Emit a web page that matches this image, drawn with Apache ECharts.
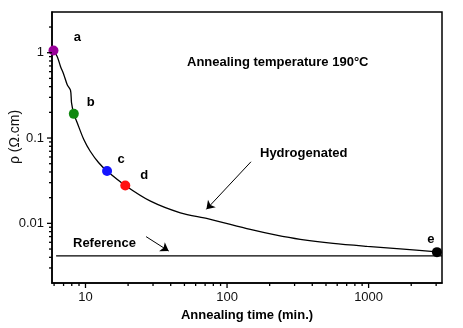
<!DOCTYPE html>
<html>
<head>
<meta charset="utf-8">
<script src="https://cdn.jsdelivr.net/npm/echarts@6/dist/echarts.min.js"></script>
<style>
  html, body { margin: 0; padding: 0; background: #fff; }
  #main { width: 463px; height: 328px; }
</style>
</head>
<body>
<div id="main"></div>
<script>
// hydrogenated sample, resistivity vs annealing time (190°C)
var hydroTime = [5.94, 6.31, 6.66, 7.03, 7.43, 7.84, 7.97, 8.27, 8.74, 9.73, 10.8, 12.4, 14.2, 19.1, 28.8, 46.8, 74, 146, 219, 329, 562, 977, 1671, 3048];
var hydroRho = [1.06, 0.905, 0.691, 0.553, 0.422, 0.362, 0.258, 0.192, 0.151, 0.096, 0.070, 0.0513, 0.041, 0.0278, 0.0182, 0.0133, 0.0113, 0.0085, 0.00733, 0.0065, 0.00583, 0.00538, 0.00503, 0.00464];

// reference sample (flat)
var refTime = [6.2, 3300];
var refRho = [0.00415, 0.00415];

// marked points a..e
var pointNames = ['a', 'b', 'c', 'd', 'e'];
var pointTime = [5.94, 8.27, 14.2, 19.1, 3040];
var pointRho = [1.06, 0.192, 0.041, 0.0278, 0.0046];

// axis ticks
var xMajorTicks = [10, 100, 1000];
var xMinorTicks = [6, 7, 8, 9, 20, 30, 40, 50, 60, 70, 80, 90, 200, 300, 400, 500, 600, 700, 800, 900, 2000, 3000];
var yMajorTicks = [0.01, 0.1, 1];
var yMinorTicks = [0.003, 0.004, 0.005, 0.006, 0.007, 0.008, 0.009, 0.02, 0.03, 0.04, 0.05, 0.06, 0.07, 0.08, 0.09, 0.2, 0.3, 0.4, 0.5, 0.6, 0.7, 0.8, 0.9, 2];

var X_MIN = 5.8, X_MAX = 3300;
var Y_MIN = 0.002, Y_MAX = 3;

var pointColors = ['#990099', '#118811', '#1414ff', '#ff1010', '#000000'];
var labelOffsets = [[24, -13], [17, -11], [14, -12], [19, -10], [-6, -13]];

var chart = echarts.init(document.getElementById('main'), null, {renderer: 'canvas'});

var font = 'Liberation Sans, Arial, sans-serif';

// tick marks drawn as thin rect symbols sitting on the axes
function xTicks(vals, len) {
  return {
    type: 'scatter', silent: true, clip: false, z: 6,
    symbol: 'rect', symbolSize: [1.3, len], symbolOffset: [0, len / 2],
    itemStyle: {color: '#000', opacity: 1},
    data: vals.map(function (v) { return [v, Y_MIN]; })
  };
}
function yTicks(vals, len) {
  return {
    type: 'scatter', silent: true, clip: false, z: 6,
    symbol: 'rect', symbolSize: [len, 1.3], symbolOffset: [-len / 2, 0],
    itemStyle: {color: '#000', opacity: 1},
    data: vals.map(function (v) { return [X_MIN, v]; })
  };
}

var option = {
  animation: false,
  backgroundColor: '#fff',
  grid: {
    left: 52, right: 21, top: 12, bottom: 45,
    show: true, borderColor: '#000', borderWidth: 1.5,
    outerBoundsMode: 'none'
  },
  xAxis: {
    type: 'log', logBase: 10, min: X_MIN, max: X_MAX,
    name: 'Annealing time (min.)', nameLocation: 'middle', nameGap: 21,
    nameTextStyle: {fontFamily: font, fontSize: 13, fontWeight: 'bold', color: '#000'},
    axisLine: {lineStyle: {color: '#000', width: 1.5}},
    axisTick: {show: false},
    splitLine: {show: false},
    axisLabel: {
      margin: 8, fontFamily: font, fontSize: 13, color: '#111',
      showMinLabel: false, showMaxLabel: false,
      formatter: function (v) { return String(v); }
    }
  },
  yAxis: {
    type: 'log', logBase: 10, min: Y_MIN, max: Y_MAX,
    axisLine: {show: true, lineStyle: {color: '#000', width: 1.5}},
    axisTick: {show: false},
    splitLine: {show: false},
    axisLabel: {
      margin: 8, fontFamily: font, fontSize: 13, color: '#111',
      showMinLabel: false, showMaxLabel: false,
      formatter: function (v) { return String(v); }
    }
  },
  graphic: [
    {type: 'text', x: 15, y: 137, rotation: Math.PI / 2,
      style: {text: 'ρ (Ω.cm)', fontFamily: font, fontSize: 14, fill: '#111', align: 'center', verticalAlign: 'middle'}},
    {type: 'text', x: 187, y: 62,
      style: {text: 'Annealing temperature 190°C', fontFamily: font, fontSize: 13, fontWeight: 'bold', fill: '#000', verticalAlign: 'middle'}},
    {type: 'text', x: 260, y: 153,
      style: {text: 'Hydrogenated', fontFamily: font, fontSize: 13, fontWeight: 'bold', fill: '#000', verticalAlign: 'middle'}},
    {type: 'text', x: 73, y: 243,
      style: {text: 'Reference', fontFamily: font, fontSize: 13, fontWeight: 'bold', fill: '#000', verticalAlign: 'middle'}}
  ],
  series: [
    {
      name: 'Hydrogenated', type: 'line',
      data: hydroTime.map(function (t, i) { return [t, hydroRho[i]]; }),
      showSymbol: false, smooth: 0.3,
      lineStyle: {color: '#000', width: 1.3},
      markLine: {
        silent: true, symbol: ['none', 'arrow'], symbolSize: 8,
        lineStyle: {color: '#000', width: 1, type: 'solid'},
        label: {show: false},
        data: [
          [{coord: [147.6, 0.0527]}, {coord: [71.5, 0.0146]}],
          [{coord: [26.8, 0.00699]}, {coord: [38.7, 0.00474]}]
        ]
      }
    },
    {
      name: 'Reference', type: 'line',
      data: refTime.map(function (t, i) { return [t, refRho[i]]; }),
      showSymbol: false,
      lineStyle: {color: '#000', width: 1.3}
    },
    {
      name: 'points', type: 'scatter', symbolSize: 10, z: 5,
      data: pointTime.map(function (t, i) {
        return {
          value: [t, pointRho[i]],
          itemStyle: {color: pointColors[i], opacity: 1},
          label: {
            show: true, formatter: pointNames[i], position: 'inside',
            offset: labelOffsets[i], fontFamily: font, fontSize: 13,
            fontWeight: 'bold', color: '#000'
          }
        };
      })
    },
    xTicks(xMajorTicks, 5),
    xTicks(xMinorTicks, 3),
    yTicks(yMajorTicks, 5),
    yTicks(yMinorTicks, 3)
  ]
};

chart.setOption(option);
</script>
</body>
</html>
